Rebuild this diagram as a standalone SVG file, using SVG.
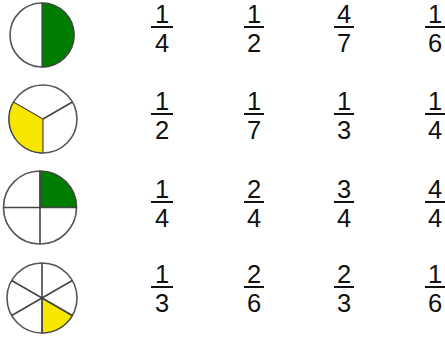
<svg xmlns="http://www.w3.org/2000/svg" width="445" height="338" viewBox="0 0 445 338">
<style>
.c{fill:#fff;stroke:#555;stroke-width:1.6}
.s{fill:none;stroke:#444;stroke-width:1.6}
.g{fill:#007d00;stroke:#444;stroke-width:1.2}
.y{fill:#f7e600;stroke:#444;stroke-width:1.2}
.n{font-family:"Liberation Sans",Arial,sans-serif;font-size:25.5px;fill:#111;text-anchor:middle}
.b{stroke:#111;stroke-width:2}
</style>
<rect width="445" height="338" fill="#fff"/>
<g id="circle1">
<circle class="c" cx="42" cy="35" r="32"/>
<path class="g" d="M42,3 A32,32 0 0,1 42,67 Z"/>
</g>
<g id="circle2">
<circle class="c" cx="43" cy="119" r="34"/>
<path class="y" d="M43,119 L43,153 A34,34 0 0,1 13.56,102 Z"/>
<path class="s" d="M43,119 L72.44,102"/>
</g>
<g id="circle3">
<circle class="c" cx="40" cy="207.5" r="36.5"/>
<path class="g" d="M40,207.5 L40,171 A36.5,36.5 0 0,1 76.5,207.5 Z"/>
<path class="s" d="M3.5,207.5 H76.5 M40,171 V244"/>
</g>
<g id="circle4">
<circle class="c" cx="42" cy="298" r="35"/>
<path class="y" d="M42,298 L42,333 A35,35 0 0,0 72.31,315.5 Z"/>
<path class="s" d="M42,263 V333 M11.69,280.5 L72.31,315.5 M11.69,315.5 L72.31,280.5"/>
</g>
<g id="fractions">
<g id="row1">
<text class="n" x="162" y="23">1</text><text class="n" x="162" y="52">4</text><line class="b" x1="151" y1="27" x2="173" y2="27"/>
<text class="n" x="254" y="23">1</text><text class="n" x="254" y="52">2</text><line class="b" x1="244" y1="27" x2="264" y2="27"/>
<text class="n" x="344" y="23">4</text><text class="n" x="344" y="52">7</text><line class="b" x1="334" y1="27" x2="354" y2="27"/>
<text class="n" x="435" y="23">1</text><text class="n" x="435" y="52">6</text><line class="b" x1="425" y1="27" x2="445" y2="27"/>
</g>
<g id="row2">
<text class="n" x="162" y="110">1</text><text class="n" x="162" y="139">2</text><line class="b" x1="151" y1="114" x2="173" y2="114"/>
<text class="n" x="254" y="110">1</text><text class="n" x="254" y="139">7</text><line class="b" x1="244" y1="114" x2="264" y2="114"/>
<text class="n" x="344" y="110">1</text><text class="n" x="344" y="139">3</text><line class="b" x1="334" y1="114" x2="354" y2="114"/>
<text class="n" x="435" y="110">1</text><text class="n" x="435" y="139">4</text><line class="b" x1="425" y1="114" x2="445" y2="114"/>
</g>
<g id="row3">
<text class="n" x="162" y="198">1</text><text class="n" x="162" y="227">4</text><line class="b" x1="151" y1="202" x2="173" y2="202"/>
<text class="n" x="254" y="198">2</text><text class="n" x="254" y="227">4</text><line class="b" x1="244" y1="202" x2="264" y2="202"/>
<text class="n" x="344" y="198">3</text><text class="n" x="344" y="227">4</text><line class="b" x1="334" y1="202" x2="354" y2="202"/>
<text class="n" x="435" y="198">4</text><text class="n" x="435" y="227">4</text><line class="b" x1="425" y1="202" x2="445" y2="202"/>
</g>
<g id="row4">
<text class="n" x="162" y="283">1</text><text class="n" x="162" y="312">3</text><line class="b" x1="151" y1="287" x2="173" y2="287"/>
<text class="n" x="254" y="283">2</text><text class="n" x="254" y="312">6</text><line class="b" x1="244" y1="287" x2="264" y2="287"/>
<text class="n" x="344" y="283">2</text><text class="n" x="344" y="312">3</text><line class="b" x1="334" y1="287" x2="354" y2="287"/>
<text class="n" x="435" y="283">1</text><text class="n" x="435" y="312">6</text><line class="b" x1="425" y1="287" x2="445" y2="287"/>
</g>
</g>
</svg>
